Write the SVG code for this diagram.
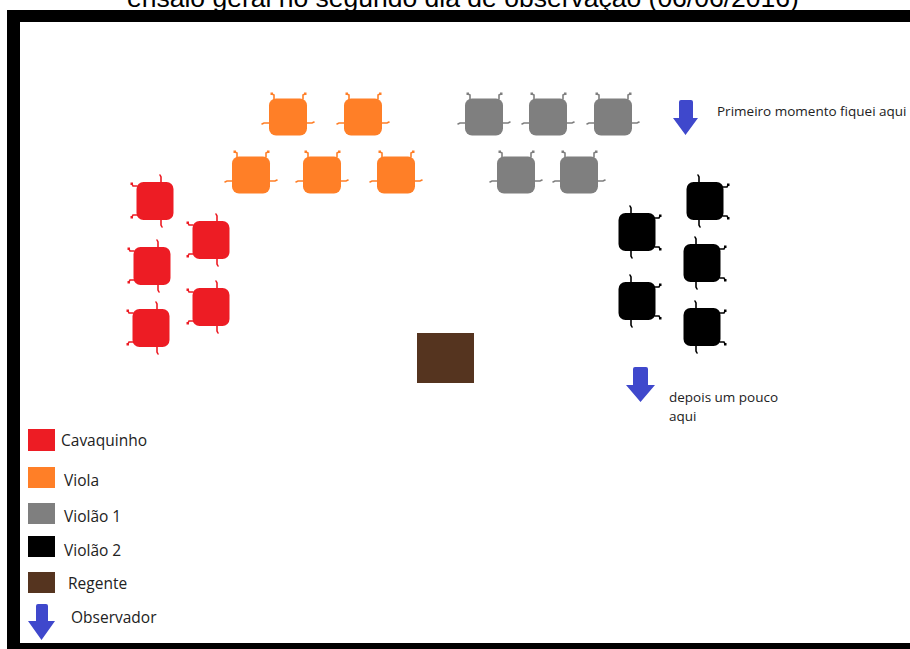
<svg xmlns="http://www.w3.org/2000/svg" xmlns:xlink="http://www.w3.org/1999/xlink" width="910" height="649" viewBox="0 0 910 649">
<style>
.title{font-family:"Liberation Sans",Arial,sans-serif;font-size:26.5px;fill:#000}
.lbl{font-family:"Open Sans","Noto Sans",sans-serif;font-size:13.5px;fill:#222}
.leg{font-family:"Open Sans","Noto Sans",sans-serif;font-size:15.5px;fill:#222}
.red{color:#ED1C24}
.org{color:#FF7F27}
.gry{color:#7F7F7F}
.blk{color:#000}
.obs{fill:#3F48CC}
</style>
<defs>
<g id="chair">
<rect x="-19" y="-18.5" width="38" height="37" rx="7" fill="currentColor"/>
<g fill="none" stroke="currentColor" stroke-width="1.6" stroke-linecap="round">
<path d="M-14,-18 L-14,-22 L-16,-23"/>
<path d="M15,-18 L15,-22 L17,-23"/>
<path d="M-19,6 L-24,6 L-26,7"/>
<path d="M19,6 L24,6 L26,5"/>
</g>
<g fill="currentColor">
<rect x="-17.5" y="-24.5" width="2.5" height="2.5"/>
<rect x="16" y="-24.5" width="2.5" height="2.5"/>
</g>
</g>
</defs>
<text class="title" x="127" y="7">ensaio geral no segundo dia de observação (06/06/2016)</text>
<g id="frame" fill="#000">
<rect x="7" y="10" width="903" height="12"/>
<rect x="7" y="10" width="13" height="639"/>
<rect x="7" y="643" width="903" height="6"/>
</g>
<g id="viola">
<use xlink:href="#chair" href="#chair" class="org" transform="translate(288,117)"/>
<use xlink:href="#chair" href="#chair" class="org" transform="translate(363,117)"/>
<use xlink:href="#chair" href="#chair" class="org" transform="translate(251,175)"/>
<use xlink:href="#chair" href="#chair" class="org" transform="translate(322,175)"/>
<use xlink:href="#chair" href="#chair" class="org" transform="translate(396,175)"/>
</g>
<g id="violao1">
<use xlink:href="#chair" href="#chair" class="gry" transform="translate(484,117)"/>
<use xlink:href="#chair" href="#chair" class="gry" transform="translate(548,117)"/>
<use xlink:href="#chair" href="#chair" class="gry" transform="translate(613,117)"/>
<use xlink:href="#chair" href="#chair" class="gry" transform="translate(516,175)"/>
<use xlink:href="#chair" href="#chair" class="gry" transform="translate(579,175)"/>
</g>
<g id="cavaquinho">
<use xlink:href="#chair" href="#chair" class="red" transform="translate(155,201) rotate(-90)"/>
<use xlink:href="#chair" href="#chair" class="red" transform="translate(211,240) rotate(-90)"/>
<use xlink:href="#chair" href="#chair" class="red" transform="translate(152,266) rotate(-90)"/>
<use xlink:href="#chair" href="#chair" class="red" transform="translate(211,307) rotate(-90)"/>
<use xlink:href="#chair" href="#chair" class="red" transform="translate(151,328) rotate(-90)"/>
</g>
<g id="violao2">
<use xlink:href="#chair" href="#chair" class="blk" transform="translate(705,201) rotate(90)"/>
<use xlink:href="#chair" href="#chair" class="blk" transform="translate(637,232) rotate(90)"/>
<use xlink:href="#chair" href="#chair" class="blk" transform="translate(702,263) rotate(90)"/>
<use xlink:href="#chair" href="#chair" class="blk" transform="translate(637,301) rotate(90)"/>
<use xlink:href="#chair" href="#chair" class="blk" transform="translate(702,327) rotate(90)"/>
</g>
<g id="regente">
<rect x="417" y="333" width="57" height="50" fill="#55341F"/>
</g>
<g id="observer1">
<path class="obs" d="M679,102 Q679,100 681,100 L691,100 Q693,100 693,102 L693,118 L698,118 L685.5,135 L673,118 L679,118 Z"/>
<text class="lbl" x="717" y="116">Primeiro momento fiquei aqui</text>
</g>
<g id="observer2">
<path class="obs" d="M633,369 Q633,367 635,367 L646,367 Q648,367 648,369 L648,385 L655,385 L640.5,402 L626,385 L633,385 Z"/>
<text class="lbl" x="669" y="402">depois um pouco</text>
<text class="lbl" x="669" y="421">aqui</text>
</g>
<g id="legend">
<rect x="28" y="429" width="27" height="22" fill="#ED1C24"/>
<text class="leg" x="61" y="446">Cavaquinho</text>
<rect x="28" y="467" width="27" height="21" fill="#FF7F27"/>
<text class="leg" x="64" y="486">Viola</text>
<rect x="28" y="503" width="27" height="21" fill="#7F7F7F"/>
<text class="leg" x="64" y="522">Violão 1</text>
<rect x="28" y="536" width="27" height="21" fill="#000"/>
<text class="leg" x="64" y="556">Violão 2</text>
<rect x="28" y="572" width="27" height="21" fill="#55341F"/>
<text class="leg" x="68" y="589">Regente</text>
<path class="obs" d="M36,606 Q36,604 38,604 L46,604 Q48,604 48,606 L48,621 L55,621 L41.5,640 L28,621 L36,621 Z"/>
<text class="leg" x="71" y="623">Observador</text>
</g>
</svg>
